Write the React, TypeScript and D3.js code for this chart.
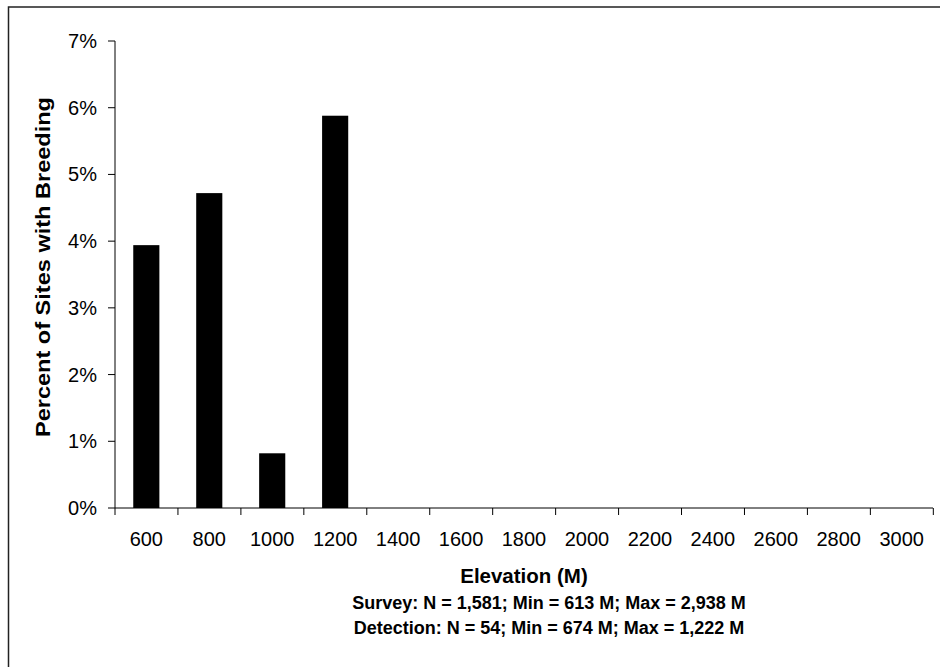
import React from "react";
import * as d3 from "d3";

const categories = ["600", "800", "1000", "1200", "1400", "1600", "1800", "2000", "2200", "2400", "2600", "2800", "3000"];
const percentBreeding = [0.0394, 0.0472, 0.0082, 0.0588, 0, 0, 0, 0, 0, 0, 0, 0, 0];
const yTicks = [0, 0.01, 0.02, 0.03, 0.04, 0.05, 0.06, 0.07];
const xTitle = "Elevation (M)";
const yTitle = "Percent of Sites with Breeding";
const notes = [
  "Survey: N = 1,581; Min = 613 M; Max = 2,938 M",
  "Detection: N = 54; Min = 674 M; Max = 1,222 M",
];

const W = 940;
const H = 667;
const plot = { left: 115, right: 933, top: 41, bottom: 508 };
const font = "Arial, 'Liberation Sans', sans-serif";

export default function App() {
  const x = d3
    .scaleBand<string>()
    .domain(categories)
    .range([plot.left, plot.right])
    .paddingInner(0.585)
    .paddingOuter(0.29);
  const step = x.step();
  const y = d3.scaleLinear().domain([0, 0.07]).range([plot.bottom, plot.top]);
  const fmt = d3.format(".0%");
  const boundaries = d3.range(categories.length + 1).map((i) => plot.left + i * step);
  const cx = (plot.left + plot.right) / 2;

  return (
    <svg
      width={W}
      height={H}
      style={{ position: "absolute", left: 0, top: 0, background: "#fff" }}
      fontFamily={font}
    >
      <rect x={8.5} y={7} width={W + 20} height={H + 20} fill="#fff" stroke="#222" strokeWidth={1.5} />

      {percentBreeding.map((v, i) =>
        v > 0 ? (
          <rect
            key={categories[i]}
            x={x(categories[i])}
            y={y(v)}
            width={x.bandwidth()}
            height={y(0) - y(v)}
            fill="#000"
          />
        ) : null
      )}

      {/* y axis */}
      <line x1={plot.left} x2={plot.left} y1={plot.top} y2={plot.bottom} stroke="#000" strokeWidth={1} />
      {yTicks.map((t) => (
        <g key={t}>
          <line x1={plot.left - 7} x2={plot.left} y1={y(t)} y2={y(t)} stroke="#000" strokeWidth={1} />
          <text x={97} y={y(t)} dy="0.35em" textAnchor="end" fontSize={20}>
            {fmt(t)}
          </text>
        </g>
      ))}

      {/* x axis */}
      <line x1={plot.left} x2={plot.right} y1={plot.bottom} y2={plot.bottom} stroke="#000" strokeWidth={1} />
      {boundaries.map((b, i) => (
        <line key={i} x1={b} x2={b} y1={plot.bottom} y2={plot.bottom + 7} stroke="#000" strokeWidth={1} />
      ))}
      {categories.map((c) => (
        <text key={c} x={(x(c) as number) + x.bandwidth() / 2} y={546} textAnchor="middle" fontSize={20}>
          {c}
        </text>
      ))}

      <text x={cx} y={583} textAnchor="middle" fontSize={20.5} fontWeight="bold">
        {xTitle}
      </text>
      {notes.map((n, i) => (
        <text key={i} x={549} y={609 + i * 25} textAnchor="middle" fontSize={18} fontWeight="bold">
          {n}
        </text>
      ))}

      <text
        transform={`translate(50, 267) rotate(-90)`}
        textAnchor="middle"
        fontSize={21}
        fontWeight="bold"
        textLength={340}
        lengthAdjust="spacingAndGlyphs"
      >
        {yTitle}
      </text>
    </svg>
  );
}
